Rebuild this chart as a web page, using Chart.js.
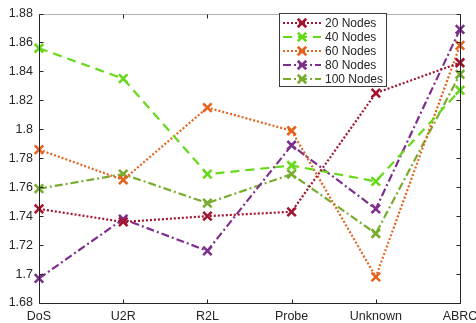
<!DOCTYPE html>
<html>
<head>
<meta charset="utf-8">
<script src="https://cdn.jsdelivr.net/npm/chart.js@4/dist/chart.umd.min.js"></script>
<style>
  html, body { margin: 0; padding: 0; background: #fff; overflow: hidden; }
  #wrap { width: 476px; height: 323px; }
</style>
</head>
<body>
<div id="wrap"><canvas id="c" width="476" height="323"></canvas></div>
<script>
'use strict';

// Categorías del eje X
const categorias = ['DoS', 'U2R', 'R2L', 'Probe', 'Unknown', 'ABRC'];

// Series por número de nodos
const nodos20  = [1.745, 1.736, 1.740, 1.743, 1.825, 1.846];
const nodos40  = [1.856, 1.835, 1.769, 1.775, 1.764, 1.827];
const nodos60  = [1.786, 1.765, 1.815, 1.799, 1.698, 1.858];
const nodos80  = [1.697, 1.738, 1.716, 1.789, 1.745, 1.869];
const nodos100 = [1.759, 1.769, 1.749, 1.769, 1.728, 1.838];

// Marcas del eje Y
const ticksY = [1.68, 1.70, 1.72, 1.74, 1.76, 1.78, 1.80, 1.82, 1.84, 1.86, 1.88];

const FUENTE = 'Arial, "Liberation Sans", Helvetica, sans-serif';
const TEXTO = '#262626';

function serie(label, data, color, dash) {
  return {
    label, data,
    borderColor: color,
    backgroundColor: color,
    borderWidth: 2.2,
    borderDash: dash,
    tension: 0,
    fill: false,
    pointStyle: 'crossRot',
    pointRadius: 6,
    pointBorderWidth: 2.6,
    pointBorderColor: color,
    pointHoverRadius: 6
  };
}

const datasets = [
  serie('20 Nodes',  nodos20,  '#a2142f', [2, 2]),
  serie('40 Nodes',  nodos40,  '#66d91a', [9, 6]),
  serie('60 Nodes',  nodos60,  '#e5631d', [2, 2]),
  serie('80 Nodes',  nodos80,  '#7e2f8e', [8, 3, 2, 3]),
  serie('100 Nodes', nodos100, '#77ac30', [8, 3, 2, 3])
];

// Marco del gráfico con marcas hacia adentro (estilo MATLAB)
const marcoPlugin = {
  id: 'marco',
  afterDatasetsDraw(chart) {
    const { ctx, chartArea: a, scales } = chart;
    const L = Math.round(a.left) + 0.5, R = Math.round(a.right) + 0.5;
    const T = Math.round(a.top) + 0.5, B = Math.round(a.bottom) + 0.5;
    ctx.save();
    ctx.lineWidth = 1;
    ctx.setLineDash([]);
    ctx.strokeStyle = '#b0b0b0';
    ctx.beginPath(); ctx.moveTo(L, T); ctx.lineTo(R, T); ctx.stroke();
    ctx.strokeStyle = TEXTO;
    ctx.beginPath();
    ctx.moveTo(L, T); ctx.lineTo(L, B); ctx.lineTo(R, B); ctx.lineTo(R, T);
    ctx.stroke();

    const tl = 4;
    ctx.beginPath();
    scales.x.ticks.forEach((t, i) => {
      const x = Math.round(scales.x.getPixelForTick(i)) + 0.5;
      ctx.moveTo(x, B); ctx.lineTo(x, B - tl);
      ctx.moveTo(x, T); ctx.lineTo(x, T + tl);
    });
    scales.y.ticks.forEach((t, i) => {
      const y = Math.round(scales.y.getPixelForTick(i)) + 0.5;
      ctx.moveTo(L, y); ctx.lineTo(L + tl, y);
      ctx.moveTo(R, y); ctx.lineTo(R - tl, y);
    });
    ctx.stroke();
    ctx.restore();
  }
};

// Leyenda en recuadro con muestra de línea y marcador
const leyendaPlugin = {
  id: 'leyendaCaja',
  afterDraw(chart) {
    const { ctx } = chart;
    const x0 = 279.5, y0 = 13.5, w = 107, h = 73;
    ctx.save();
    ctx.fillStyle = '#fff';
    ctx.fillRect(x0, y0, w, h);
    ctx.strokeStyle = '#3a3a3a';
    ctx.lineWidth = 1;
    ctx.strokeRect(x0, y0, w, h);

    ctx.font = '12px ' + FUENTE;
    ctx.textBaseline = 'middle';
    ctx.textAlign = 'left';
    chart.data.datasets.forEach((ds, i) => {
      const y = 23 + i * 14;
      ctx.strokeStyle = ds.borderColor;
      ctx.lineWidth = ds.borderWidth;
      ctx.setLineDash(ds.borderDash);
      ctx.beginPath(); ctx.moveTo(283, y); ctx.lineTo(321, y); ctx.stroke();
      ctx.setLineDash([]);
      ctx.lineWidth = ds.pointBorderWidth;
      Chart.helpers.drawPoint(ctx, { pointStyle: 'crossRot', radius: ds.pointRadius, borderWidth: ds.pointBorderWidth }, 302, y);
      ctx.fillStyle = TEXTO;
      ctx.fillText(ds.label, 325, y + 0.5);
    });
    ctx.restore();
  }
};

new Chart(document.getElementById('c'), {
  type: 'line',
  data: { labels: categorias, datasets },
  options: {
    responsive: false,
    animation: false,
    layout: { padding: { top: 11, right: 0, left: 0, bottom: 0 } },
    plugins: {
      legend: { display: false },
      tooltip: { enabled: false }
    },
    scales: {
      x: {
        offset: false,
        grid: { display: false, drawTicks: false },
        border: { display: false },
        ticks: {
          color: TEXTO, font: { family: FUENTE, size: 12.5 },
          padding: 6, maxRotation: 0, autoSkip: false
        },
        afterFit: s => { s.height = 20; s.paddingRight = 16; s.paddingLeft = 0; }
      },
      y: {
        min: 1.68, max: 1.88,
        grid: { display: false, drawTicks: false },
        border: { display: false },
        afterBuildTicks: s => { s.ticks = ticksY.map(v => ({ value: v })); },
        ticks: {
          color: TEXTO, font: { family: FUENTE, size: 12.5 }, padding: 6,
          callback: v => String(parseFloat(Number(v).toFixed(2)))
        },
        afterFit: s => { s.width = 39; }
      }
    }
  },
  plugins: [marcoPlugin, leyendaPlugin]
});
</script>
</body>
</html>
